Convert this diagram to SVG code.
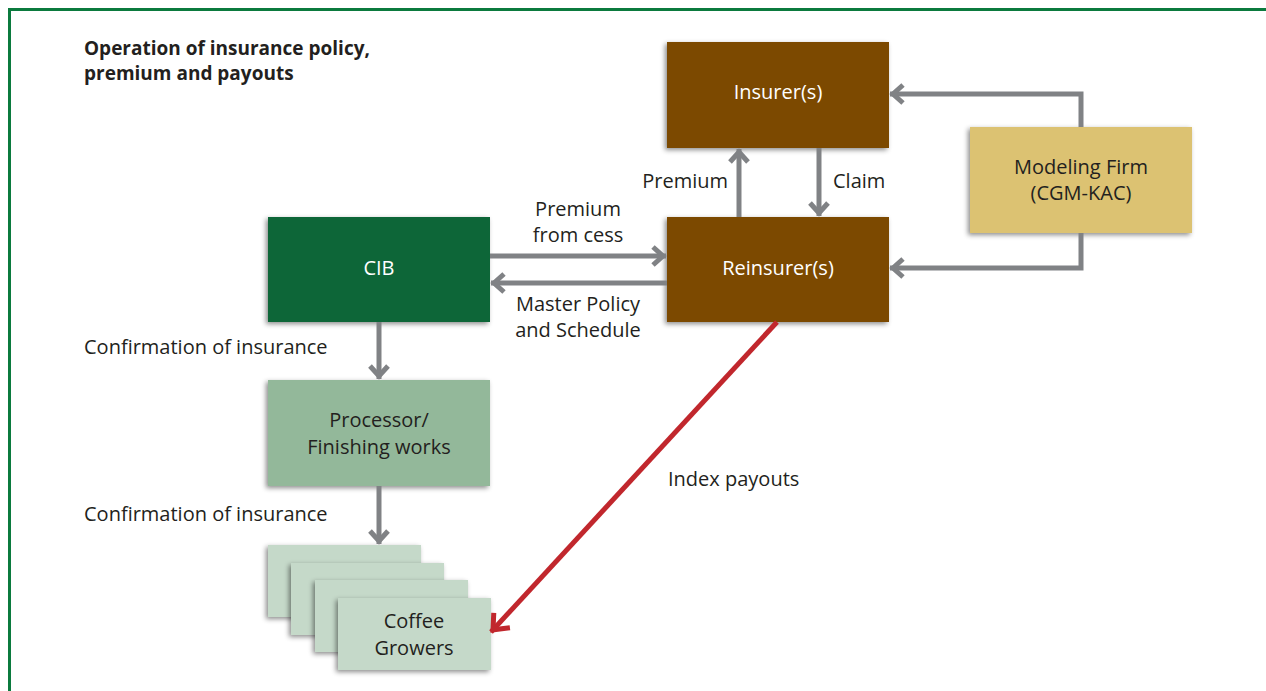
<svg xmlns="http://www.w3.org/2000/svg" width="1266" height="691" viewBox="0 0 1266 691">
<style>
text{font-family:"Open Sans","Noto Sans","Liberation Sans",sans-serif;font-size:20px;fill:#231F20}
.title{font-weight:bold;font-size:19px}
.w{fill:#FFFFFF;text-anchor:middle}
.c{text-anchor:middle}
.e{text-anchor:end}
.box{filter:url(#sh)}
.conn{fill:none;stroke:#808285;stroke-width:5}
.red{fill:none;stroke:#C1272D;stroke-width:5}
</style>
<defs>
<filter id="sh" x="-10%" y="-10%" width="120%" height="130%">
<feDropShadow dx="-2" dy="2" stdDeviation="2.5" flood-color="#000" flood-opacity="0.45"/>
</filter>
<marker id="ag" markerUnits="userSpaceOnUse" viewBox="-15 -15 30 30" markerWidth="30" markerHeight="30" refX="3" refY="0" orient="auto" overflow="visible">
<path d="M-10,-9 L0,0 L-10,9" fill="none" stroke="#808285" stroke-width="5"/>
</marker>
<marker id="ar" markerUnits="userSpaceOnUse" viewBox="-15 -15 30 30" markerWidth="30" markerHeight="30" refX="3" refY="0" orient="auto" overflow="visible">
<path d="M-13,-11 L0,0 L-13,11" fill="none" stroke="#C1272D" stroke-width="5"/>
</marker>
</defs>
<rect x="0" y="0" width="1266" height="691" fill="#FFFFFF"/>
<rect x="9.5" y="9.5" width="1300" height="800" fill="none" stroke="#0B7A3E" stroke-width="3"/>
<text class="title" x="84" y="55">Operation of insurance policy,</text>
<text class="title" x="84" y="80">premium and payouts</text>

<g id="insurer"><rect class="box" x="667" y="42" width="222" height="106" fill="#7B4A00"/><text class="w" x="778" y="99">Insurer(s)</text></g>
<g id="reinsurer"><rect class="box" x="667" y="217" width="222" height="105" fill="#7B4A00"/><text class="w" x="778" y="275">Reinsurer(s)</text></g>
<g id="modeling-firm"><rect class="box" x="970" y="127" width="222" height="106" fill="#DCC272"/><text class="c" x="1081" y="174">Modeling Firm</text><text class="c" x="1081" y="200">(CGM-KAC)</text></g>
<g id="cib"><rect class="box" x="268" y="217" width="222" height="105" fill="#0E6637"/><text class="w" x="379" y="275">CIB</text></g>
<g id="processor"><rect class="box" x="268" y="380" width="222" height="106" fill="#93B89A"/><text class="c" x="379" y="427">Processor/</text><text class="c" x="379" y="454">Finishing works</text></g>
<g id="coffee-growers">
<rect class="box" x="268" y="545" width="153" height="72" fill="#C5D9C9"/>
<rect class="box" x="291" y="563" width="153" height="72" fill="#C5D9C9"/>
<rect class="box" x="315" y="580" width="153" height="72" fill="#C5D9C9"/>
<rect class="box" x="338" y="598" width="153" height="72" fill="#C5D9C9"/>
<text class="c" x="414" y="628">Coffee</text><text class="c" x="414" y="655">Growers</text>
</g>

<g id="connectors">
<path class="conn" d="M1081,127 V94 H890" marker-end="url(#ag)"/>
<path class="conn" d="M1081,233 V268 H890" marker-end="url(#ag)"/>
<path class="conn" d="M739,217 V149" marker-end="url(#ag)"/>
<path class="conn" d="M819,148 V216" marker-end="url(#ag)"/>
<path class="conn" d="M490,256 H666" marker-end="url(#ag)"/>
<path class="conn" d="M667,283 H491" marker-end="url(#ag)"/>
<path class="conn" d="M379,322 V379" marker-end="url(#ag)"/>
<path class="conn" d="M379,486 V544" marker-end="url(#ag)"/>
<path class="red" d="M777,322 L491,632" marker-end="url(#ar)"/>
<text class="e" x="728" y="188">Premium</text>
<text x="833" y="188">Claim</text>
<text class="c" x="578" y="216">Premium</text>
<text class="c" x="578" y="242">from cess</text>
<text class="c" x="578" y="311">Master Policy</text>
<text class="c" x="578" y="337">and Schedule</text>
<text x="84" y="354">Confirmation of insurance</text>
<text x="84" y="521">Confirmation of insurance</text>
<text x="668" y="486">Index payouts</text>
</g>
</svg>
